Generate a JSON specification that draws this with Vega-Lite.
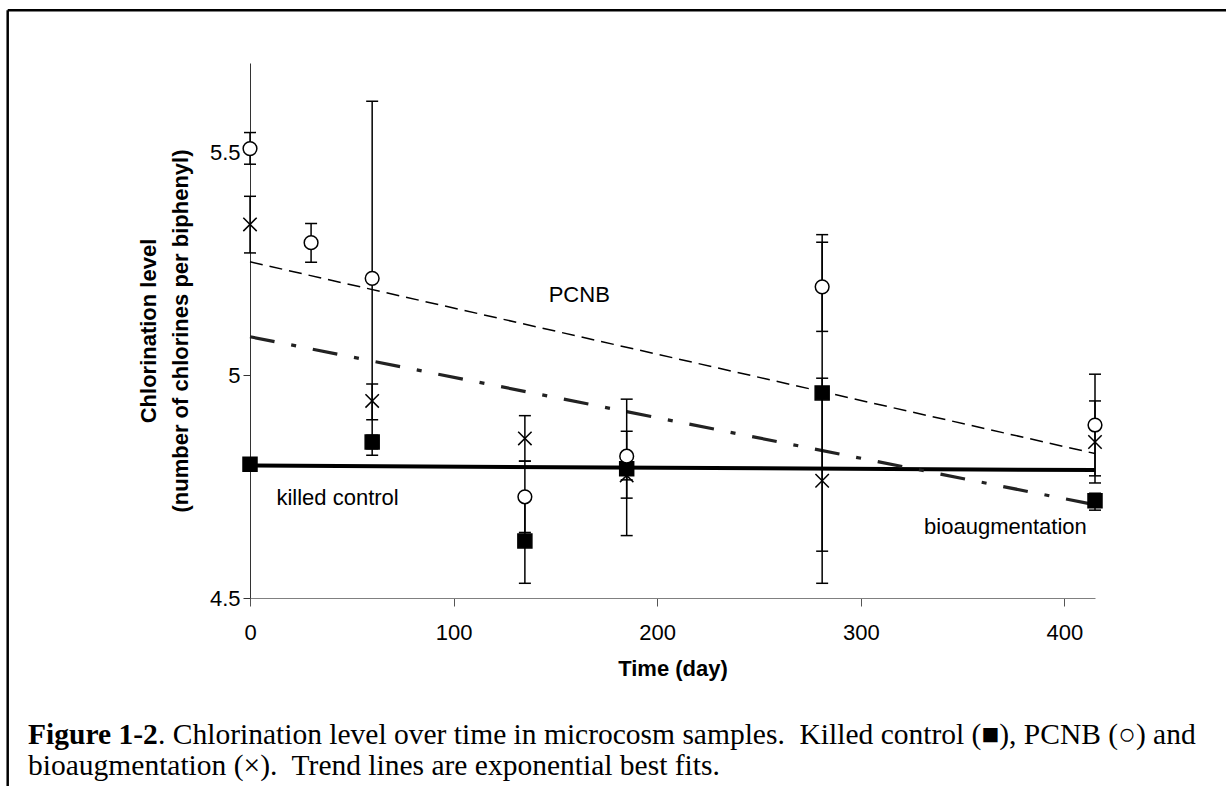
{
  "$schema": "https://vega.github.io/schema/vega-lite/v6.json",
  "width": 845,
  "height": 535,
  "autosize": {"type": "none"},
  "padding": {"left": 250, "top": 63, "right": 131, "bottom": 188},
  "background": "white",
  "config": {
    "view": {"stroke": null},
    "font": "Liberation Sans",
    "axis": {"grid": false, "labelColor": "black", "titleColor": "black", "labelFont": "Liberation Sans", "titleFont": "Liberation Sans"}
  },
  "datasets": {
    "points": [
      {"group": "killed control", "t": 0, "v": 4.80, "lo": 4.79, "hi": 4.81},
      {"group": "killed control", "t": 60, "v": 4.85, "lo": 4.835, "hi": 4.865},
      {"group": "killed control", "t": 135, "v": 4.628, "lo": 4.533, "hi": 4.723},
      {"group": "killed control", "t": 185, "v": 4.79, "lo": 4.64, "hi": 4.946},
      {"group": "killed control", "t": 281, "v": 4.96, "lo": 4.605, "hi": 5.315},
      {"group": "killed control", "t": 415, "v": 4.718, "lo": 4.697, "hi": 4.735},
      {"group": "PCNB", "t": 0, "v": 5.508, "lo": 5.473, "hi": 5.544},
      {"group": "PCNB", "t": 30, "v": 5.297, "lo": 5.253, "hi": 5.34},
      {"group": "PCNB", "t": 60, "v": 5.217, "lo": 4.82, "hi": 5.614},
      {"group": "PCNB", "t": 135, "v": 4.727, "lo": 4.647, "hi": 4.807},
      {"group": "PCNB", "t": 185, "v": 4.818, "lo": 4.765, "hi": 4.874},
      {"group": "PCNB", "t": 281, "v": 5.198, "lo": 5.098, "hi": 5.298},
      {"group": "PCNB", "t": 415, "v": 4.888, "lo": 4.774, "hi": 5.002},
      {"group": "bioaugmentation", "t": 0, "v": 5.338, "lo": 5.274, "hi": 5.401},
      {"group": "bioaugmentation", "t": 60, "v": 4.942, "lo": 4.90, "hi": 4.98},
      {"group": "bioaugmentation", "t": 135, "v": 4.858, "lo": 4.807, "hi": 4.909},
      {"group": "bioaugmentation", "t": 185, "v": 4.775, "lo": 4.724, "hi": 4.826},
      {"group": "bioaugmentation", "t": 281, "v": 4.763, "lo": 4.533, "hi": 4.993},
      {"group": "bioaugmentation", "t": 415, "v": 4.85, "lo": 4.758, "hi": 4.942}
    ],
    "trends": [
      {"series": "killed control", "t": 0, "v": 4.797},
      {"series": "killed control", "t": 415, "v": 4.787},
      {"series": "PCNB", "t": 0, "v": 5.254},
      {"series": "PCNB", "t": 415, "v": 4.824},
      {"series": "bioaugmentation", "t": 0, "v": 5.086},
      {"series": "bioaugmentation", "t": 415, "v": 4.709}
    ],
    "labels": [
      {"text": "PCNB", "t": 161.7, "v": 5.179},
      {"text": "killed control", "t": 43, "v": 4.724},
      {"text": "bioaugmentation", "t": 371, "v": 4.66}
    ],
    "caption": [
      {"part": "bold", "text": "Figure 1-2", "t": -109, "v": 4.1726},
      {"part": "normal", "text": ". Chlorination level over time in microcosm samples.\u00a0 Killed control (■), PCNB (○) and", "t": -109, "v": 4.1726},
      {"part": "line2", "text": "bioaugmentation (×).\u00a0 Trend lines are exponential best fits.", "t": -109, "v": 4.1031}
    ]
  },
  "layer": [
    {
      "encoding": {
        "x": {
          "field": "t", "type": "quantitative",
          "scale": {"domain": [0, 415], "nice": false, "zero": false},
          "axis": {
            "title": "Time (day)", "values": [0, 100, 200, 300, 400],
            "tickSize": 8, "labelFontSize": 22, "labelPadding": 16,
            "titleFontSize": 22, "titleFontWeight": "bold", "titlePadding": 15,
            "domainColor": "#808080", "tickColor": "#555555", "labelFlush": false
          }
        },
        "y": {
          "field": "v", "type": "quantitative",
          "scale": {"domain": [4.5, 5.7], "nice": false, "zero": false},
          "axis": {
            "title": ["Chlorination level", "(number of chlorines per biphenyl)"],
            "values": [4.5, 5, 5.5], "format": ".1~f",
            "tickSize": 7, "labelFontSize": 22, "labelPadding": 3,
            "titleFontSize": 22, "titleFontWeight": "bold", "titleLineHeight": 32, "titlePadding": 17,
            "domainColor": "#333333", "tickColor": "#333333"
          }
        }
      },
      "layer": [
        {
          "data": {"name": "trends"},
          "transform": [{"filter": "datum.series === 'killed control'"}],
          "mark": {"type": "line", "color": "black", "strokeWidth": 4},
          "encoding": {}
        },
        {
          "data": {"name": "trends"},
          "transform": [{"filter": "datum.series === 'PCNB'"}],
          "mark": {"type": "line", "color": "black", "strokeWidth": 1.5, "strokeDash": [13, 7]},
          "encoding": {}
        },
        {
          "data": {"name": "trends"},
          "transform": [{"filter": "datum.series === 'bioaugmentation'"}],
          "mark": {"type": "line", "color": "#222222", "strokeWidth": 3.2, "strokeDash": [25, 17, 5, 17]},
          "encoding": {}
        },
        {
          "data": {"name": "points"},
          "mark": {"type": "rule", "color": "black", "strokeWidth": 1.5},
          "encoding": {
            "y": {"field": "lo", "type": "quantitative"},
            "y2": {"field": "hi"}
          }
        },
        {
          "data": {"name": "points"},
          "mark": {"type": "tick", "orient": "horizontal", "color": "black", "size": 12, "thickness": 1.5, "opacity": 1},
          "encoding": {"y": {"field": "lo", "type": "quantitative"}}
        },
        {
          "data": {"name": "points"},
          "mark": {"type": "tick", "orient": "horizontal", "color": "black", "size": 12, "thickness": 1.5, "opacity": 1},
          "encoding": {"y": {"field": "hi", "type": "quantitative"}}
        },
        {
          "data": {"name": "points"},
          "mark": {"type": "point", "filled": false, "strokeWidth": 1.5, "opacity": 1, "stroke": "black"},
          "encoding": {
            "shape": {"field": "group", "type": "nominal", "legend": null,
              "scale": {"domain": ["killed control", "PCNB", "bioaugmentation"], "range": ["square", "circle", "M-1,-1L1,1M1,-1L-1,1"]}},
            "fill": {"field": "group", "type": "nominal", "legend": null,
              "scale": {"domain": ["killed control", "PCNB", "bioaugmentation"], "range": ["black", "white", "transparent"]}},
            "size": {"field": "group", "type": "nominal", "legend": null,
              "scale": {"domain": ["killed control", "PCNB", "bioaugmentation"], "range": [196, 180, 256]}}
          }
        },
        {
          "data": {"name": "labels"},
          "mark": {"type": "text", "fontSize": 22, "font": "Liberation Sans", "color": "black", "align": "center", "baseline": "middle"},
          "encoding": {"text": {"field": "text"}}
        },
        {
          "data": {"name": "caption"},
          "transform": [{"filter": "datum.part === 'bold'"}],
          "mark": {"type": "text", "fontSize": 29.5, "font": "Liberation Serif", "fontWeight": "bold", "color": "black", "align": "left", "baseline": "alphabetic"},
          "encoding": {"text": {"field": "text"}}
        },
        {
          "data": {"name": "caption"},
          "transform": [{"filter": "datum.part === 'normal'"}],
          "mark": {"type": "text", "fontSize": 29.5, "font": "Liberation Serif", "color": "black", "align": "left", "baseline": "alphabetic", "dx": 130},
          "encoding": {"text": {"field": "text"}}
        },
        {
          "data": {"name": "caption"},
          "transform": [{"filter": "datum.part === 'line2'"}],
          "mark": {"type": "text", "fontSize": 29.5, "font": "Liberation Serif", "color": "black", "align": "left", "baseline": "alphabetic"},
          "encoding": {"text": {"field": "text"}}
        }
      ]
    },
    {
      "data": {"values": [{"edge": "top"}]},
      "mark": {"type": "rule", "color": "black", "strokeWidth": 2.5},
      "encoding": {
        "x": {"datum": -119, "type": "quantitative"},
        "x2": {"datum": 485},
        "y": {"datum": 5.8184, "type": "quantitative"}
      }
    },
    {
      "data": {"values": [{"edge": "left"}]},
      "mark": {"type": "rule", "color": "black", "strokeWidth": 2.5},
      "encoding": {
        "x": {"datum": -119, "type": "quantitative"},
        "y": {"datum": 5.8184, "type": "quantitative"},
        "y2": {"datum": 4.0}
      }
    }
  ]
}
